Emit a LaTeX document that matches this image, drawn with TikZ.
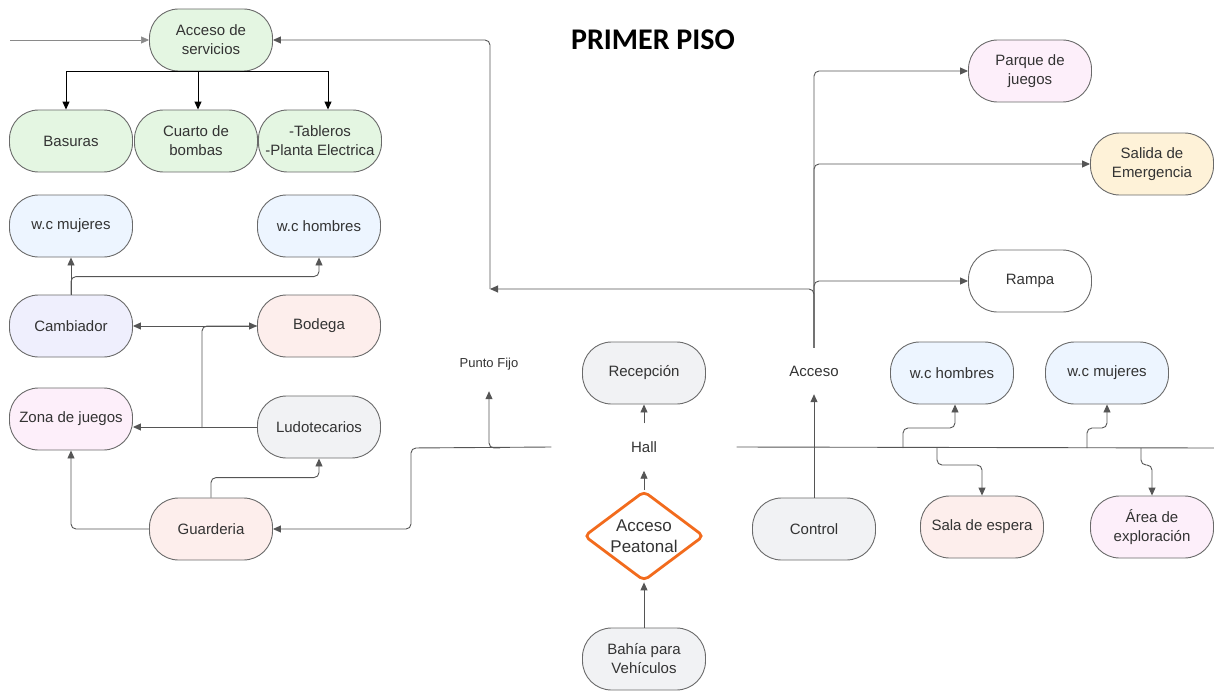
\documentclass[tikz,border=0pt]{standalone}
\usepackage{fontspec}
\setmainfont{Liberation Sans}
\newfontfamily\titlefont{Carlito}
\usetikzlibrary{arrows.meta,shapes.geometric}
\definecolor{bordc}{HTML}{6A6A6A}
\definecolor{linec}{HTML}{555555}
\definecolor{lightline}{HTML}{8A8A8A}
\definecolor{txtc}{HTML}{333333}
\definecolor{greenc}{HTML}{E4F6E2}
\definecolor{bluec}{HTML}{EDF5FF}
\definecolor{lavc}{HTML}{EFEFFD}
\definecolor{peachc}{HTML}{FDEEEC}
\definecolor{pinkc}{HTML}{FDEFFA}
\definecolor{grayc}{HTML}{F1F2F4}
\definecolor{yellowc}{HTML}{FEF2D8}
\definecolor{orangec}{HTML}{F26B1D}
\tikzset{
  box/.style={draw=bordc, line width=0.9pt, rounded corners=29pt, minimum width=123pt,
    minimum height=62pt, align=center, font=\fontsize{15}{19}\selectfont, text=txtc, inner sep=2pt},
  txt/.style={align=center, font=\fontsize{15}{19}\selectfont, text=txtc, inner sep=2pt},
  conn/.style={draw=linec, line width=0.9pt, rounded corners=5pt, -{Triangle[length=8pt,width=7pt]}},
  plain/.style={draw=linec, line width=0.9pt, rounded corners=5pt},
  kconn/.style={draw=black, line width=1pt, -{Triangle[length=8pt,width=7pt]}},
}
\begin{document}
\begin{tikzpicture}[x=1pt,y=-1pt]
\useasboundingbox (0,0) rectangle (1214,690);
% title
\node[font=\titlefont\bfseries\fontsize{30}{34}\selectfont, text=black] (title) at (653,40) {PRIMER PISO};
% nodes left
\node[box,fill=greenc] (as) at (211,40) {Acceso de\\servicios};
\node[box,fill=greenc] (bas) at (71,141) {Basuras};
\node[box,fill=greenc] (cb) at (196,141) {Cuarto de\\bombas};
\node[box,fill=greenc] (tab) at (320,141) {-Tableros\\-Planta Electrica};
\node[box,fill=bluec] (wmL) at (71,226) {w.c mujeres};
\node[box,fill=bluec] (whL) at (319,226) {w.c hombres};
\node[box,fill=lavc] (cam) at (71,326) {Cambiador};
\node[box,fill=peachc] (bod) at (319,326) {Bodega};
\node[box,fill=pinkc] (zj) at (71,419) {Zona de juegos};
\node[box,fill=grayc] (lud) at (319,427) {Ludotecarios};
\node[box,fill=peachc] (gua) at (211,529) {Guarderia};
% center
\node[txt, font=\fontsize{13}{16}\selectfont, minimum height=54pt] (pf) at (489,364) {Punto Fijo};
\node[box,fill=grayc] (rec) at (644,373) {Recepción};
\node[txt, minimum width=185pt, minimum height=47pt] (hall) at (644,447) {Hall};
\node[diamond, draw=orangec, line width=2.8pt, rounded corners=5pt, aspect=1.33, inner sep=0pt,
  minimum width=120pt, minimum height=90pt, align=center, text=txtc,
  font=\fontsize{17}{21}\selectfont] (ap) at (644,536) {Acceso\\Peatonal};
\node[box,fill=grayc] (bah) at (644,659) {Bahía para\\Vehículos};
% right
\node[txt, minimum height=46pt] (acc) at (814,371) {Acceso};
\node[box,fill=grayc] (ctl) at (814,529) {Control};
\node[box,fill=bluec] (whR) at (952,373) {w.c hombres};
\node[box,fill=bluec] (wmR) at (1107,373) {w.c mujeres};
\node[box,fill=peachc] (se) at (982,527) {Sala de espera};
\node[box,fill=pinkc] (ae) at (1152,527) {Área de\\exploración};
\node[box,fill=pinkc] (pj) at (1030,71) {Parque de\\juegos};
\node[box,fill=yellowc] (sal) at (1152,164) {Salida de\\Emergencia};
\node[box,fill=white] (ram) at (1030,281) {Rampa};
% coordinates
\coordinate (inL) at (10,40);
\coordinate (j1) at (490,289);
\coordinate (hb) at (211,72);
\coordinate (jl) at (202,428);
\coordinate (kL) at (411,448);
\coordinate (jpf) at (500,448);
\coordinate (rEnd) at (1214,448);
\coordinate (b1) at (903,448);
\coordinate (b2) at (937,448);
\coordinate (b3) at (1087,448);
\coordinate (b4) at (1141,448);
% connectors top
\draw[conn, draw=lightline, line width=0.6pt] (inL) -- (as.west);
\draw[conn] (j1) |- (as.east);
\draw[draw=black, line width=1pt] (as.south) -- (hb);
\draw[kconn] (hb) -| ([xshift=-5pt]bas.north);
\draw[kconn] (hb) -| ([xshift=2pt]cb.north);
\draw[kconn] (hb) -| ([xshift=8pt]tab.north);
% left cluster
\draw[conn] (cam.north) -- (wmL.south);
\draw[conn] (cam.north) -- ++(0,-18) -| (whL.south);
\draw[draw=linec, line width=0.9pt, {Triangle[length=8pt,width=7pt]}-{Triangle[length=8pt,width=7pt]}] (cam.east) -- (bod.west);
\draw[plain] (jl) |- (bod.west);
\draw[conn] (lud.west) -- (lud.west -| zj.east);
\draw[conn] (gua.north) -- ++(0,-20) -| (lud.south);
\draw[conn] (gua.west) -| (zj.south);
% center
\draw[conn] (hall.west) -- (kL) |- (gua.east);
\draw[conn] (jpf) -| (pf.south);
\draw[conn] (hall.north) -- (rec.south);
\draw[conn] (ap.north) -- (hall.south);
\draw[conn] (bah.north) -- (ap.south);
% right
\draw[plain] (hall.east) -- (rEnd);
\draw[conn] (ctl.north) -- (acc.south);
\draw[conn] (acc.north) |- (pj.west);
\draw[conn] (acc.north) |- (sal.west);
\draw[conn] (acc.north) |- (ram.west);
\draw[conn] (acc.north) |- (j1);
\draw[conn] (b1) -- ++(0,-20) -| ([xshift=3pt]whR.south);
\draw[conn] (b2) -- ++(0,17) -| (se.north);
\draw[conn] (b3) -- ++(0,-20) -| (wmR.south);
\draw[conn] (b4) -- ++(0,17) -| (ae.north);
\end{tikzpicture}
\end{document}
